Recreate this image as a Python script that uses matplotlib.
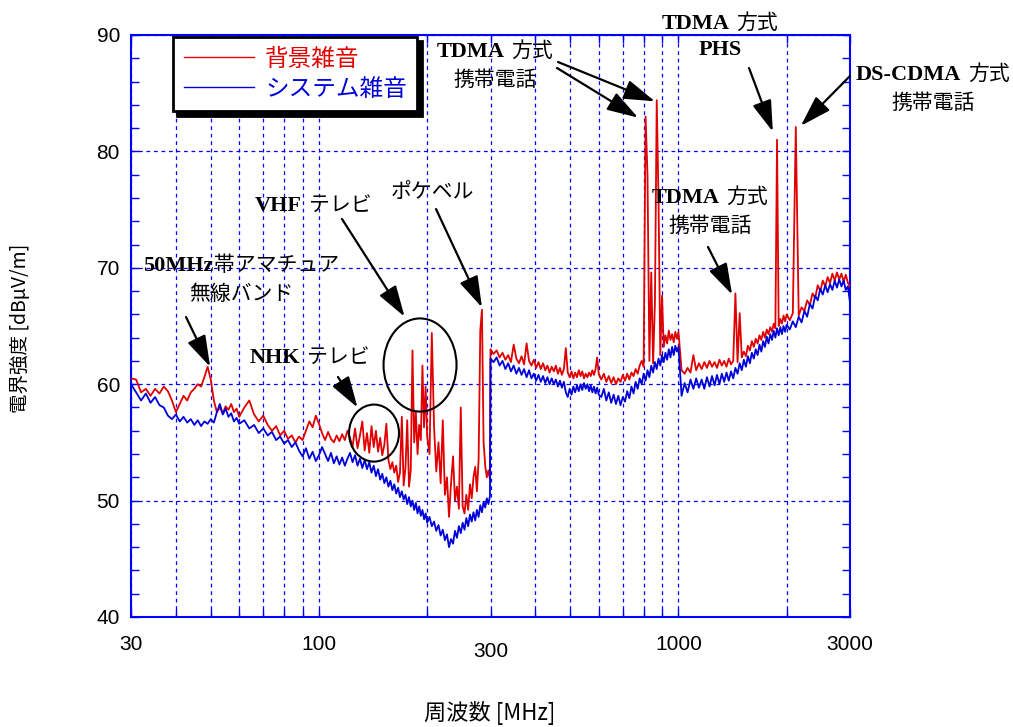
import matplotlib
matplotlib.use("Agg")
import matplotlib.pyplot as plt
from matplotlib.patches import Ellipse
from matplotlib.ticker import MultipleLocator, NullFormatter
from matplotlib.offsetbox import TextArea, HPacker, VPacker, AnnotationBbox

# ── data (MHz / dBuV/m) ─────────────────────────────────────────────────────
freq_a = list(range(30, 61)) + list(range(62, 101, 2))
red_a = [60.5, 60.4, 59.3, 59.6, 59.0, 59.6, 59.2, 59.8, 59.4, 58.6,
         57.6, 58.3, 59.0, 58.6, 59.3, 59.6, 60.0, 59.8, 60.6, 61.5,
         60.4, 58.6, 57.6, 58.0, 57.5, 58.1, 57.8, 58.3, 57.6, 57.9,
         57.2,
         58.0, 58.6, 57.4, 56.8, 57.3, 56.5, 56.0, 56.4, 55.6, 56.0,
         55.3, 55.6, 55.0, 55.5, 55.2, 56.0, 56.8, 56.3, 57.3, 56.6]
blue_a = [60.0, 59.3, 58.6, 59.2, 58.4, 58.9, 58.2, 58.0, 57.3, 57.0,
          57.4, 56.8, 57.2, 56.7, 57.0, 56.5, 56.9, 56.4, 56.8, 56.6,
          57.0, 56.7, 57.6, 58.3, 57.4, 57.9, 57.2, 57.5, 56.8, 57.1,
          56.6,
          56.9, 56.2, 56.5, 55.8, 56.2, 55.6, 55.9, 55.2, 55.5, 54.9,
          55.2, 54.6, 55.0, 54.3, 53.8, 54.5, 53.6, 54.2, 53.4, 53.9]

freq_b = list(range(102, 201, 2)) + list(range(203, 300, 3))
red_b = [55.8, 55.2, 55.9, 55.3, 55.0, 55.6, 55.1, 55.7, 55.2, 56.0,
         55.4, 54.6, 56.2, 54.5, 55.6, 56.8, 54.3, 55.8, 54.1, 56.4,
         54.6, 56.0, 54.2, 55.4, 53.9, 54.8, 56.6, 53.5, 52.7, 53.3,
         52.4, 53.0, 51.6, 52.4, 57.2, 51.3, 52.8, 56.9, 51.2, 52.6,
         62.9, 55.0, 57.6, 54.0, 56.5, 55.2, 61.6, 56.3, 59.8, 55.5,
         54.0, 64.4, 56.3, 52.5, 55.0, 51.5, 56.9, 50.5, 52.0, 48.6,
         51.5, 53.8, 50.0, 51.2, 49.3, 58.0, 49.5, 48.9, 50.5, 49.2,
         51.4, 50.2, 52.0, 52.9, 50.8, 53.5, 64.6, 66.4, 55.0, 53.0,
         52.0, 52.6, 51.8]
blue_b = [54.6, 54.0, 53.4, 54.1, 53.2, 53.8, 53.1, 53.7, 53.0, 53.6,
          54.1, 53.3, 53.9, 53.0, 53.6, 52.8, 53.5, 52.7, 53.3, 52.4,
          53.0, 52.1, 52.7, 51.8, 52.3, 51.5, 52.0, 51.2, 51.7, 50.9,
          51.4, 50.6, 51.1, 50.3, 50.8, 50.1, 50.5, 49.7, 50.3, 49.5,
          50.0, 49.2, 49.8, 48.9, 49.5, 48.7, 49.2, 48.4, 48.9, 48.1,
          48.6, 47.8, 48.2, 47.4, 47.9, 47.0, 47.5, 46.6, 47.1, 46.0,
          46.7, 46.3, 47.4, 46.8, 47.8, 47.2, 48.1, 47.5, 48.5, 47.8,
          48.8, 48.2, 49.0, 48.3, 49.2, 48.6, 49.6, 49.0, 49.9, 49.4,
          50.2, 49.7, 50.4]

freq_c = list(range(300, 601, 6)) + list(range(610, 1001, 10))
red_c = [63.0,
         62.6, 62.9, 62.3, 62.7, 62.1, 62.5, 61.9, 63.4, 62.2, 61.8,
         62.4, 61.7, 63.5, 62.0, 61.6, 62.1, 61.4, 61.9, 61.3, 61.8,
         61.2, 61.6, 61.0, 61.5, 61.1, 61.6, 60.9, 61.4, 60.8, 61.3,
         63.1, 61.0, 60.6, 61.1, 60.5, 61.0, 60.6, 61.2, 60.7, 61.1,
         60.5, 60.9, 60.6, 61.0, 60.7, 61.2, 60.8, 61.3, 62.3, 60.9,
         60.4, 60.9, 60.2, 60.7, 60.1, 60.6, 60.0, 60.5, 60.2, 60.8,
         60.3, 60.9, 60.4, 61.0, 60.7, 61.3, 60.9, 61.6, 62.0, 61.5,
         83.0, 78.0, 62.0, 69.6, 61.8, 67.0, 84.4, 76.0, 62.5, 67.6,
         63.2, 64.2, 63.5, 64.6, 63.8, 64.3, 63.6, 64.5, 63.9, 64.5]
blue_c = [62.2,
          61.9, 62.3, 61.6, 62.0, 61.3, 61.8, 61.1, 61.6, 60.9, 61.4,
          60.8, 61.3, 60.6, 61.2, 60.5, 60.9, 60.3, 60.8, 60.2, 60.7,
          60.1, 60.6, 60.0, 60.5, 60.0, 60.4, 59.8, 60.3, 59.7, 60.2,
          59.3, 58.9, 59.6, 59.1, 59.8, 59.3, 59.9, 59.4, 60.0, 59.5,
          60.1, 59.6, 60.0, 59.4, 59.9, 59.3, 59.8, 59.2, 59.7, 59.1,
          58.9, 59.6, 58.6, 59.3, 58.4, 59.1, 58.3, 59.0, 58.2, 58.9,
          58.5, 59.4, 58.8, 59.8, 59.2, 60.2, 59.6, 60.5, 60.0, 60.9,
          60.3, 61.2, 60.6, 61.6, 61.0, 61.9, 61.3, 62.2, 61.6, 62.5,
          61.9, 62.7, 62.1, 63.0, 62.3, 63.2, 62.5, 63.3, 62.8, 63.2]

freq_d = list(range(1020, 2001, 20)) + list(range(2040, 3001, 40))
red_d = [61.2, 60.9, 61.4, 61.0, 62.5, 61.2, 61.8, 61.3, 61.9, 61.4,
         62.0, 61.5, 61.9, 61.4, 62.1, 61.6, 62.0, 61.5, 62.2, 61.7,
         62.0, 67.8, 61.9, 66.1, 62.3, 62.8, 62.4, 63.3, 62.9, 63.7,
         63.2, 63.9, 63.5, 64.2, 63.8, 64.5, 64.0, 64.7, 64.3, 64.9,
         64.5, 65.2, 64.8, 81.0, 65.0, 65.6, 65.2, 65.9, 65.4, 66.0,
         65.5, 66.1, 82.1, 65.9, 66.6, 66.3, 67.2, 66.8, 67.8, 67.4,
         68.5, 68.0, 68.9, 68.4, 69.2, 68.7, 69.5, 68.9, 69.6, 69.0,
         69.5, 68.8, 69.4, 68.7, 68.4]
blue_d = [59.0, 60.1, 59.3, 60.4, 59.6, 60.5, 59.7, 60.4, 59.6, 60.6,
          59.8, 60.7, 59.9, 60.8, 60.0, 60.9, 60.2, 61.0, 60.3, 61.1,
          60.5, 61.4, 60.9, 61.8, 61.2, 62.1, 61.5, 62.4, 61.8, 62.7,
          62.2, 63.0, 62.5, 63.4, 62.8, 63.7, 63.2, 64.1, 63.5, 64.3,
          63.8, 64.6, 64.0, 64.8, 64.2, 64.9, 64.3, 65.0, 64.5, 65.1,
          64.7, 65.4, 64.9, 65.8, 65.3, 66.3, 65.8, 66.9, 66.5, 67.6,
          67.2, 68.2, 67.7, 68.5, 67.9, 68.6, 68.1, 68.9, 68.3, 69.0,
          68.4, 68.9, 68.1, 68.4, 67.0]

freq = freq_a + freq_b + freq_c + freq_d
red = red_a + red_b + red_c + red_d
blue = blue_a + blue_b + blue_c + blue_d

series_labels = ["背景雑音", "システム雑音"]
xticks = [30, 100, 300, 1000, 3000]
xminor = [40, 50, 60, 70, 80, 90, 200, 400, 500, 600, 700, 800, 900, 2000]

# ── style ───────────────────────────────────────────────────────────────────
W, H = 1013, 727
JP = "Noto Sans CJK JP"
NARROW = "Liberation Sans Narrow"
RED = "#e00000"
BLUE = "#0000d8"
AXBLUE = "#0000ff"
LATIN = dict(family="Liberation Serif", weight="bold", size=16, color="black")
JPP = dict(family=JP, size=15, color="black")


def fig_xy(px, py):
    return px / W, 1 - py / H


fig = plt.figure(figsize=(W / 100, H / 100), dpi=100)
ax = fig.add_axes([131 / W, 1 - 617 / H, 719 / W, 582 / H])

ax.plot(freq, red, color=RED, lw=1.3, zorder=3, label=series_labels[0])
ax.plot(freq, blue, color=BLUE, lw=1.3, zorder=4, label=series_labels[1])

ax.set_xscale("log")
ax.set_xlim(30, 3000)
ax.set_ylim(40, 90)
ax.set_xticks(xticks)
ax.set_xticklabels([str(t) for t in xticks])
ax.set_xticks(xminor, minor=True)
ax.xaxis.set_minor_formatter(NullFormatter())
ax.yaxis.set_major_locator(MultipleLocator(10))
ax.yaxis.set_minor_locator(MultipleLocator(2))

grid_kw = dict(color=AXBLUE, ls=(0, (3, 3)), lw=0.9)
ax.grid(True, which="both", axis="x", **grid_kw)
ax.grid(True, which="major", axis="y", **grid_kw)
ax.set_axisbelow(True)

for sp in ax.spines.values():
    sp.set_color(AXBLUE)
    sp.set_linewidth(1.5)
ax.tick_params(which="both", direction="in", top=True, right=True,
               color=AXBLUE, length=6, width=1)
ax.tick_params(axis="x", pad=13)
ax.tick_params(axis="y", pad=8)
for lbl in ax.get_xticklabels():
    lbl.set_family([NARROW, "Liberation Sans"])
    lbl.set_fontsize(15)
for lbl in ax.get_yticklabels():
    lbl.set_family("Liberation Sans")
    lbl.set_fontsize(15)
ax.xaxis.get_major_ticks()[2].set_pad(18)

fig.text(*fig_xy(490, 713), "周波数 [MHz]", ha="center", va="center",
         family=[NARROW, JP], size=16)
fig.text(*fig_xy(20, 328), "電界強度 [dBμV/m]", ha="center", va="center",
         rotation=90, family=[JP], size=14)

leg = ax.legend(loc="upper left", bbox_to_anchor=fig_xy(173, 37),
                bbox_transform=fig.transFigure, prop={"family": JP, "size": 17},
                labelcolor="linecolor", fancybox=False, framealpha=1,
                edgecolor="black", shadow={"ox": 3, "oy": -3, "color": "black", "alpha": 1},
                handlelength=3.0, handletextpad=0.45, borderpad=0.45,
                labelspacing=0.3, borderaxespad=0)
leg.get_frame().set_linewidth(2)
for h in leg.get_lines():
    h.set_linewidth(1)


# ── annotations ─────────────────────────────────────────────────────────────
def label(lines, px, py):
    rows = []
    for parts, sep in lines:
        areas = [TextArea(t, textprops=LATIN if k == "L" else JPP) for t, k in parts]
        rows.append(HPacker(children=areas, align="baseline", pad=0, sep=sep))
    box = VPacker(children=rows, align="center", pad=0, sep=5)
    ab = AnnotationBbox(box, fig_xy(px, py), xycoords="figure fraction",
                        frameon=False, box_alignment=(0.5, 0.5),
                        annotation_clip=False)
    fig.add_artist(ab)


def arrow(head, px, py):
    ax.annotate("", xy=head, xycoords="data", xytext=fig_xy(px, py),
                textcoords="figure fraction", annotation_clip=False,
                arrowprops=dict(arrowstyle="-|>,head_length=0.8,head_width=0.25",
                                color="black", lw=1.6, shrinkA=0, shrinkB=0,
                                mutation_scale=24))


label([([("TDMA", "L"), ("方式", "J")], 5), ([("携帯電話", "J")], 0)], 495, 65)
label([([("TDMA", "L"), ("方式", "J")], 5), ([("PHS", "L")], 0)], 720, 36)
label([([("DS-CDMA", "L"), ("方式", "J")], 5), ([("携帯電話", "J")], 0)], 933, 88)
label([([("TDMA", "L"), ("方式", "J")], 5), ([("携帯電話", "J")], 0)], 710, 211)
label([([("VHF", "L"), ("テレビ", "J")], 5)], 313, 205)
label([([("ポケベル", "J")], 0)], 432, 192)
label([([("50MHz", "L"), ("帯アマチュア", "J")], 0), ([("無線バンド", "J")], 0)], 241, 279)
label([([("NHK", "L"), ("テレビ", "J")], 5)], 310, 357)

arrow((860, 84.3), 558, 62)
arrow((772, 82.9), 557, 68)
arrow((1830, 81.7), 749, 68)
arrow((2190, 82.2), 850, 76)
arrow((1410, 67.7), 708, 247)
arrow((173, 65.8), 342, 219)
arrow((284, 66.6), 436, 209)
arrow((49.8, 61.5), 186, 317)
arrow((128, 58.0), 338, 377)

ax.add_patch(Ellipse((0.338, 0.316), 0.0695, 0.098, transform=ax.transAxes,
                     fill=False, ec="black", lw=1.5, zorder=5))
ax.add_patch(Ellipse((0.402, 0.433), 0.1015, 0.160, transform=ax.transAxes,
                     fill=False, ec="black", lw=1.5, zorder=5))

fig.savefig("out.png", dpi=100, facecolor="white")
